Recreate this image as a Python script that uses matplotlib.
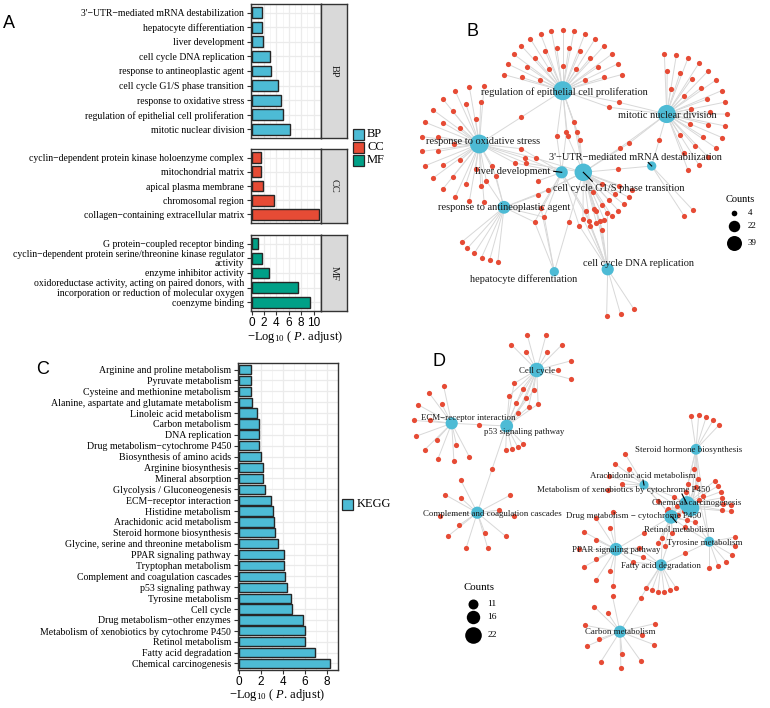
import matplotlib
matplotlib.use('Agg')
import matplotlib.pyplot as plt
import numpy as np
from matplotlib.collections import LineCollection
from matplotlib.patches import Rectangle

# ---------------- DATA ----------------
bp_terms = ["3'\u2212UTR\u2212mediated mRNA destabilization", "hepatocyte differentiation",
            "liver development", "cell cycle DNA replication", "response to antineoplastic agent",
            "cell cycle G1/S phase transition", "response to oxidative stress",
            "regulation of epithelial cell proliferation", "mitotic nuclear division"]
bp_vals = [1.6, 1.7, 1.9, 3.0, 3.1, 4.3, 4.7, 5.1, 6.2]

cc_terms = ["cyclin\u2212dependent protein kinase holoenzyme complex", "mitochondrial matrix",
            "apical plasma membrane", "chromosomal region",
            "collagen\u2212containing extracellular matrix"]
cc_vals = [1.45, 1.5, 1.9, 3.6, 10.8]

mf_terms = ["G protein\u2212coupled receptor binding",
            "cyclin\u2212dependent protein serine/threonine kinase regulator\nactivity",
            "enzyme inhibitor activity",
            "oxidoreductase activity, acting on paired donors, with\nincorporation or reduction of molecular oxygen",
            "coenzyme binding"]
mf_vals = [1.1, 1.7, 2.75, 7.55, 9.35]

kegg_terms = ["Arginine and proline metabolism", "Pyruvate metabolism",
              "Cysteine and methionine metabolism", "Alanine, aspartate and glutamate metabolism",
              "Linoleic acid metabolism", "Carbon metabolism", "DNA replication",
              "Drug metabolism\u2212cytochrome P450", "Biosynthesis of amino acids",
              "Arginine biosynthesis", "Mineral absorption", "Glycolysis / Gluconeogenesis",
              "ECM\u2212receptor interaction", "Histidine metabolism", "Arachidonic acid metabolism",
              "Steroid hormone biosynthesis", "Glycine, serine and threonine metabolism",
              "PPAR signaling pathway", "Tryptophan metabolism",
              "Complement and coagulation cascades", "p53 signaling pathway",
              "Tyrosine metabolism", "Cell cycle", "Drug metabolism\u2212other enzymes",
              "Metabolism of xenobiotics by cytochrome P450", "Retinol metabolism",
              "Fatty acid degradation", "Chemical carcinogenesis"]
kegg_vals = [1.1, 1.1, 1.1, 1.2, 1.65, 1.8, 1.8, 1.8, 2.0, 2.2, 2.2, 2.35, 2.95, 3.1, 3.2,
             3.3, 3.55, 4.1, 4.1, 4.2, 4.4, 4.7, 4.8, 5.85, 6.0, 6.0, 6.95, 8.3]

# network B (GO): hubs, gene counts, shared-gene groups
b_names = ["regulation of epithelial cell proliferation", "mitotic nuclear division",
           "response to oxidative stress", "liver development",
           "cell cycle G1/S phase transition", "3'\u2212UTR\u2212mediated mRNA destabilization",
           "response to antineoplastic agent", "hepatocyte differentiation",
           "cell cycle DNA replication"]
b_counts = [39, 35, 38, 12, 32, 4, 14, 4, 12]
b_hub_x = [562.7, 666.7, 479.3, 561.7, 583.3, 651.7, 504.0, 554.3, 607.7]
b_hub_y = [90.7, 114.0, 144.0, 172.3, 172.3, 166.0, 207.3, 271.7, 269.3]
b_shared = [((0, 2), 1), ((0, 1), 2), ((0, 4), 4), ((0, 3), 2), ((1, 4), 2), ((1, 5), 1),
            ((2, 3), 3), ((2, 4), 2), ((2, 6), 3), ((4, 8), 6), ((3, 8), 3), ((3, 6, 7), 3),
            ((4, 5), 1), ((6, 4), 2), ((4, 7), 1)]

# network D (KEGG)
d_names = ["Cell cycle", "ECM\u2212receptor interaction", "p53 signaling pathway",
           "Complement and coagulation cascades", "Steroid hormone biosynthesis",
           "Arachidonic acid metabolism", "Metabolism of xenobiotics by cytochrome P450",
           "Chemical carcinogenesis", "Drug metabolism \u2212 cytochrome P450",
           "Retinol metabolism", "Tyrosine metabolism", "PPAR signaling pathway",
           "Fatty acid degradation", "Carbon metabolism"]
d_counts = [18, 14, 15, 14, 12, 10, 20, 22, 16, 15, 11, 15, 13, 14]
d_hub_x = [536.7, 451.7, 506.7, 477.3, 696.0, 644.0, 687.0, 691.0, 671.0, 671.5, 709.3, 616.0, 661.0, 620.0]
d_hub_y = [370.0, 423.3, 426.0, 512.7, 449.3, 485.0, 504.0, 508.0, 517.0, 516.5, 541.7, 549.3, 565.0, 631.7]
d_shared = [((0, 2), 9), ((1, 2), 1), ((2, 3), 1), ((6, 7, 8, 9), 6), ((6, 7, 8), 3), ((7, 4), 3),
            ((4, 6, 7), 2), ((5, 6, 7, 8, 9), 3), ((5, 9), 1), ((10, 7, 8), 2), ((10, 12), 1),
            ((11, 12), 3), ((12, 8, 9), 2), ((11, 9), 1), ((12, 13), 1), ((10, 4), 1), ((4, 7, 10), 1)]

b_legend_counts = [4, 22, 39]
d_legend_counts = [11, 16, 22]

# ---------------- STYLE ----------------
W, H = 770, 708
SERIF = 'Liberation Serif'
SANS = 'Liberation Sans'
plt.rcParams['mathtext.fontset'] = 'custom'
plt.rcParams['mathtext.rm'] = SERIF
plt.rcParams['mathtext.it'] = SERIF + ':italic'
C_BP, C_CC, C_MF = '#4DBBD5', '#E64B35', '#00A087'
GENE = '#E64B35'
HUB = '#4DBBD5'
EDGE = '#D8D8D8'

fig = plt.figure(figsize=(W / 100, H / 100), dpi=100)


def pax(x0, y0, x1, y1, **kw):
    return fig.add_axes([x0 / W, 1 - y1 / H, (x1 - x0) / W, (y1 - y0) / H], **kw)


def bar_panel(ax, labels, vals, color, xlim, bar_h, fs, show_x, xticks):
    n = len(labels)
    y = np.arange(n)[::-1]
    ax.barh(y, vals, height=bar_h, color=color, edgecolor='#262626', linewidth=1.0, zorder=3)
    ax.set_ylim(-0.6, n - 0.4)
    ax.set_xlim(*xlim)
    ax.set_yticks(y)
    ax.set_yticklabels(labels, fontfamily=SERIF, fontsize=fs, linespacing=0.95)
    ax.set_xticks(xticks)
    ax.set_xticks([t + 1 for t in xticks], minor=True)
    ax.grid(which='major', color='#EBEBEB', lw=0.9, zorder=0)
    ax.grid(which='minor', axis='x', color='#F2F2F2', lw=0.5, zorder=0)
    ax.set_axisbelow(True)
    for s in ax.spines.values():
        s.set_color('#333333')
        s.set_linewidth(1.0)
    ax.tick_params(axis='y', length=3, width=0.8, color='#333333', pad=2)
    ax.tick_params(which='minor', length=0)
    if show_x:
        ax.tick_params(axis='x', length=3, width=0.8, color='#333333', pad=1.5, labelsize=8.5)
        for t in ax.get_xticklabels():
            t.set_fontfamily(SANS)
    else:
        ax.tick_params(axis='x', length=0, labelbottom=False)


def strip(x0, y0, x1, y1, text):
    s = pax(x0, y0, x1, y1)
    s.set_facecolor('#D9D9D9')
    s.set_xticks([]); s.set_yticks([])
    for sp in s.spines.values():
        sp.set_color('#333333'); sp.set_linewidth(1.0)
    s.text(0.5, 0.5, text, rotation=-90, ha='center', va='center', fontfamily=SERIF,
           fontsize=7.5, transform=s.transAxes, color='#1A1A1A')


# ---------------- PANEL A ----------------
axA1 = pax(251, 4, 321, 138)
bar_panel(axA1, bp_terms, bp_vals, C_BP, (-0.1, 11.2), 0.75, 7.0, False, [0, 2, 4, 6, 8, 10])
strip(321, 4, 347, 138, 'BP')
axA2 = pax(251, 149, 321, 223)
bar_panel(axA2, cc_terms, cc_vals, C_CC, (-0.1, 11.2), 0.75, 7.0, False, [0, 2, 4, 6, 8, 10])
strip(321, 149, 347, 223, 'CC')
axA3 = pax(251, 235, 321, 311)
bar_panel(axA3, mf_terms, mf_vals, C_MF, (-0.1, 11.2), 0.75, 7.0, True, [0, 2, 4, 6, 8, 10])
strip(321, 235, 347, 311, 'MF')

# ---------------- PANEL C ----------------
axC = pax(238, 363, 338, 670)
bar_panel(axC, kegg_terms, kegg_vals, C_BP, (-0.08, 8.67), 0.85, 7.1, True, [0, 2, 4, 6, 8])

# overlay for legends / titles
ov = pax(0, 0, W, H)
ov.set_xlim(0, W); ov.set_ylim(H, 0)
ov.axis('off')
ov.patch.set_alpha(0)

xlab = '\u2212Log$_{10}$ ( $\\mathit{P}$. adjust)'
ov.text(295, 337, xlab, ha='center', va='center', fontfamily=SERIF, fontsize=9)
ov.text(277, 695, xlab, ha='center', va='center', fontfamily=SERIF, fontsize=9)

for i, (lab, col) in enumerate(zip(['BP', 'CC', 'MF'], [C_BP, C_CC, C_MF])):
    yc = 134 + 13 * i
    ov.add_patch(Rectangle((352.5, yc - 5.5), 11, 11, facecolor=col, edgecolor='#262626', lw=0.9))
    ov.text(367, yc, lab, ha='left', va='center', fontfamily=SERIF, fontsize=9)
ov.add_patch(Rectangle((342, 498.5), 11, 11, facecolor=C_BP, edgecolor='#262626', lw=0.9))
ov.text(357, 504, 'KEGG', ha='left', va='center', fontfamily=SERIF, fontsize=9)

for t, x, y in [('A', 9, 24), ('B', 472, 31), ('C', 43, 370), ('D', 439, 362)]:
    ov.text(x, y, t, ha='center', va='center', fontfamily=SANS, fontsize=13)


# ---------------- NETWORKS ----------------
def fan_positions(hx, hy, n, a0, a1, radii):
    pts = []
    if n <= 0:
        return pts
    radii = np.array(radii, float)
    w = radii / radii.sum()
    cnt = np.floor(w * n).astype(int)
    rem = n - cnt.sum()
    i = len(radii) - 1
    while rem > 0:
        cnt[i] += 1; rem -= 1; i = (i - 1) % len(radii)
    for r, c in zip(radii, cnt):
        for k in range(c):
            a = np.deg2rad(a0 + (a1 - a0) * (k + 0.5) / c)
            pts.append((hx + r * np.cos(a), hy - r * np.sin(a)))
    return pts


def cluster_positions(cx, cy, n, spread=6.0):
    if n == 1:
        return [(cx, cy)]
    pts = []
    for k in range(n):
        r = spread * np.sqrt(k + 0.5)
        t = k * 2.39996
        pts.append((cx + r * np.cos(t), cy + r * np.sin(t)))
    return pts


def draw_network(ax, names, hx, hy, counts, shared, fans, labels, leaders, dfun, fs):
    hx = np.array(hx); hy = np.array(hy)
    genes, segs = [], []
    nshared = np.zeros(len(names), int)
    for hubs, n in shared:
        cx = hx[list(hubs)].mean(); cy = hy[list(hubs)].mean()
        for p in cluster_positions(cx, cy, n):
            genes.append(p)
            for h in hubs:
                segs.append([p, (hx[h], hy[h])])
                nshared[h] += 1
    for h, (a0, a1, radii) in fans.items():
        for p in fan_positions(hx[h], hy[h], counts[h] - nshared[h], a0, a1, radii):
            genes.append(p)
            segs.append([p, (hx[h], hy[h])])
    ax.add_collection(LineCollection(segs, colors=EDGE, linewidths=0.7, zorder=1))
    g = np.array(genes)
    ax.scatter(g[:, 0], g[:, 1], s=(0.72 * 5.2) ** 2, color=GENE, linewidths=0, zorder=2)
    d = np.array([dfun(c) for c in counts])
    ax.scatter(hx, hy, s=(0.72 * d) ** 2, color=HUB, linewidths=0, zorder=3)
    for h, (dx, dy) in leaders.items():
        ax.plot([hx[h], hx[h] + dx], [hy[h], hy[h] + dy], color='black', lw=0.8, zorder=4)
    for name, (lx, ly) in zip(names, labels):
        ax.text(lx, ly, name, ha='center', va='center', fontfamily=SERIF, fontsize=fs,
                color='#1A1A1A', zorder=5)


def size_legend(ax, x, ytitle, ys, vals, dfun, fs):
    ax.text(x + 6, ytitle, 'Counts', ha='center', va='center', fontfamily=SERIF, fontsize=fs + 1)
    for y, v in zip(ys, vals):
        ax.scatter([x], [y], s=(0.72 * dfun(v)) ** 2, color='black', linewidths=0, zorder=3)
        ax.text(x + 14, y, str(v), ha='left', va='center', fontfamily=SERIF, fontsize=fs)


axB = pax(420, 0, 770, 330)
axB.set_xlim(420, 770); axB.set_ylim(330, 0); axB.axis('off')
b_fans = {0: (170, 10, [25, 43, 61]), 1: (98, -75, [25, 43, 60]), 2: (78, 282, [25, 42, 58]),
          3: (200, 200, [25]), 4: (-15, -80, [22, 38, 52]), 5: (-42, -62, [60]),
          6: (215, 268, [55]), 7: (270, 270, [30]), 8: (-100, -48, [47])}
b_labels = [(564, 92), (667, 115), (483, 142), (513, 172), (619, 188.5), (635, 158),
            (504, 208), (524, 279.5), (638.7, 263.5)]
b_leaders = {3: (-8, -1), 5: (-3.5, -3.5), 4: (9, 9)}
b_hub_d = lambda c: np.sqrt(54.6 + 7.86 * c)
b_leg_d = lambda c: np.sqrt(10 + 5.5 * c)
draw_network(axB, b_names, b_hub_x, b_hub_y, b_counts, b_shared, b_fans, b_labels, b_leaders,
             b_hub_d, 7.5)
size_legend(axB, 734, 199.5, [213.3, 226, 242.7], b_legend_counts, b_leg_d, 6.5)

axD = pax(380, 330, 770, 708)
axD.set_xlim(380, 770); axD.set_ylim(708, 330); axD.axis('off')
d_fans = {0: (150, -30, [21, 36]), 1: (90, 310, [22, 38]), 2: (-100, -40, [24]),
          3: (100, 405, [22, 37]), 4: (105, 40, [34]), 5: (110, 200, [22, 36]),
          6: (45, -15, [36]), 7: (10, -10, [40]), 8: (-100, -120, [30]), 9: (-95, -125, [30]),
          10: (20, -100, [26]), 11: (80, 280, [22, 37]), 12: (-50, -130, [27]),
          13: (85, 390, [22, 36])}
d_labels = [(536.7, 371), (468.3, 418.5), (524, 432), (492.3, 513.5), (689, 450.5),
            (643.3, 476.5), (623.5, 489.5), (696.7, 503), (634, 516.5), (679.3, 529.5),
            (704.3, 543), (616, 550.5), (661, 565.5), (620, 632.5)]
d_leaders = {5: (-1, -5), 6: (-5, -10), 9: (5, 6)}
d_d = lambda c: np.sqrt(max(16 * c - 76, 20))
draw_network(axD, d_names, d_hub_x, d_hub_y, d_counts, d_shared, d_fans, d_labels, d_leaders,
             d_d, 6.4)
size_legend(axD, 473.3, 587, [604, 617.3, 635], d_legend_counts, d_d, 6.8)

fig.savefig('out.png', dpi=100)
